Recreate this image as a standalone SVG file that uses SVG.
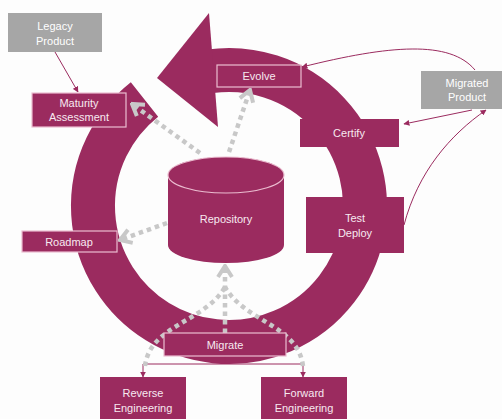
<svg xmlns="http://www.w3.org/2000/svg" width="502" height="419" viewBox="0 0 502 419">
<style>
.box{fill:#9b2b5f;}
.bd{stroke:#ebbdd0;stroke-width:1.2;}
.gray{fill:#a6a6a6;}
.t{font-family:"Liberation Sans",Arial,sans-serif;font-size:11px;fill:#f7e9f0;text-anchor:middle;}
.tg{font-family:"Liberation Sans",Arial,sans-serif;font-size:11px;fill:#ffffff;text-anchor:middle;}
.ln{fill:none;stroke:#9b2b5f;stroke-width:1;marker-end:url(#ah);}
.dot{fill:none;stroke:#c8c8c8;stroke-width:4.5;stroke-dasharray:4.5 4;}
.dota{marker-end:url(#ch);}
</style>
<defs>
<marker id="ah" viewBox="0 0 10 10" refX="9" refY="5" markerWidth="6" markerHeight="6" markerUnits="userSpaceOnUse" orient="auto">
<path d="M0,0 L10,5 L0,10 Z" fill="#9b2b5f"/>
</marker>
<marker id="ch" viewBox="-14 -9 16 18" refX="0" refY="0" markerWidth="16" markerHeight="18" markerUnits="userSpaceOnUse" orient="auto">
<path d="M-11,-7 L0,0 L-11,7" fill="none" stroke="#c8c8c8" stroke-width="4"/>
</marker>
</defs>
<rect width="502" height="419" fill="#fdfdfd"/>

<g id="cycle">
<path d="M144.5,99.4 A136,136 0 1 0 210.1,71.3" fill="none" stroke="#9b2b5f" stroke-width="44"/>
<polygon points="209,13 157,78 218,127" fill="#9b2b5f"/>
</g>

<g id="connectors">
<path class="ln" d="M55,52 L78,92"/>
<path class="ln" d="M475,70 C450,40 390,45 302,67"/>
<path class="ln" d="M472,110 L404,124"/>
<path class="ln" d="M404,225 C418,172 450,135 486,110"/>
<path fill="none" stroke="#9b2b5f" stroke-width="1" d="M225,356 L225,364 M143,364 L303,364"/>
<path class="ln" d="M143,364 L143,377"/>
<path class="ln" d="M303,364 L303,377"/>
<path class="dot dota" d="M200,153 L132,104"/>
<path class="dot dota" d="M229,152 L250,90"/>
<path class="dot dota" d="M167,223 L120,240"/>
<path class="dot" d="M225,333 L225,287"/>
<path class="dot" d="M145,366 C150,325 205,322 225,287"/>
<path class="dot" d="M303,366 C298,325 245,322 225,287"/>
<path class="dot dota" d="M225,290 L225,266"/>
</g>

<g id="legacy">
<rect class="gray" x="8" y="13" width="94" height="39"/>
<text class="tg" x="55" y="30">Legacy</text>
<text class="tg" x="55" y="45">Product</text>
</g>
<g id="maturity">
<rect class="box bd" x="32" y="93" width="94" height="34"/>
<text class="t" x="79" y="107">Maturity</text>
<text class="t" x="79" y="121">Assessment</text>
</g>
<g id="evolve">
<rect class="box bd" x="217" y="65" width="84" height="22"/>
<text class="t" x="259" y="80">Evolve</text>
</g>
<g id="certify">
<rect class="box" x="300" y="119" width="99" height="28"/>
<text class="t" x="349" y="137">Certify</text>
</g>
<g id="testdeploy">
<rect class="box" x="306" y="197" width="98" height="56"/>
<text class="t" x="355" y="222">Test</text>
<text class="t" x="355" y="237">Deploy</text>
</g>
<g id="roadmap">
<rect class="box bd" x="22" y="231" width="95" height="21"/>
<text class="t" x="69" y="246">Roadmap</text>
</g>
<g id="migrate">
<rect class="box bd" x="164" y="333" width="122" height="23"/>
<text class="t" x="225" y="349">Migrate</text>
</g>
<g id="reverse">
<rect class="box" x="100" y="377" width="86" height="45"/>
<text class="t" x="143" y="397">Reverse</text>
<text class="t" x="143" y="412">Engineering</text>
</g>
<g id="forward">
<rect class="box" x="261" y="377" width="86" height="45"/>
<text class="t" x="304" y="397">Forward</text>
<text class="t" x="304" y="412">Engineering</text>
</g>
<g id="migrated">
<rect class="gray" x="421" y="71" width="84" height="38"/>
<text class="tg" x="467" y="87">Migrated</text>
<text class="tg" x="467" y="101">Product</text>
</g>
<g id="repository">
<path class="box" d="M168,175 L168,245 A58,18 0 0 0 284,245 L284,175 A58,18 0 0 0 168,175 Z"/>
<ellipse cx="226" cy="175" rx="58" ry="18" fill="#9b2b5f" stroke="#ebbdd0" stroke-width="1.2"/>
<text class="t" x="226" y="223">Repository</text>
</g>
</svg>
